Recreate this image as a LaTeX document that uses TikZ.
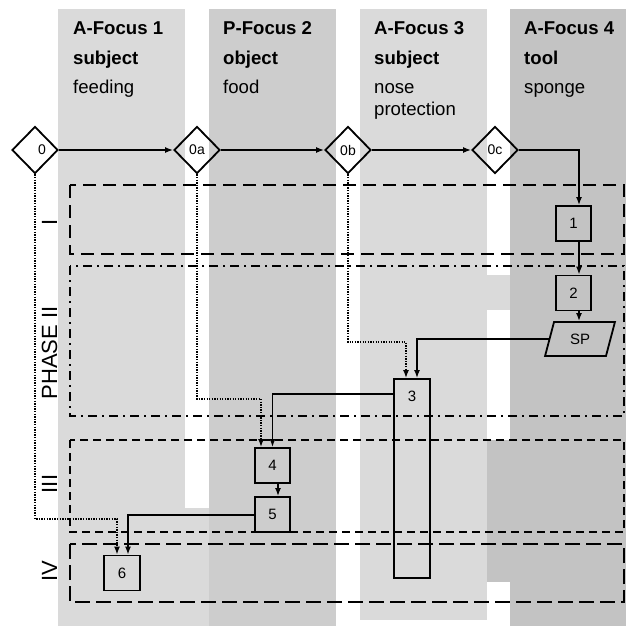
\documentclass[tikz,border=0pt]{standalone}
\usepackage{fontspec}
\setmainfont{Liberation Sans}
\usetikzlibrary{arrows.meta,shapes.geometric,calc}

\definecolor{shadeA}{gray}{0.855}
\definecolor{shadeB}{gray}{0.805}
\definecolor{shadeC}{gray}{0.765}

\tikzset{
  colhead/.style={anchor=base west, inner sep=0, font=\fontsize{18.6}{22}\selectfont\bfseries},
  colsub/.style={anchor=base west, inner sep=0, font=\fontsize{18.6}{22}\selectfont},
  phaselabel/.style={rotate=90, inner sep=0, font=\fontsize{22}{26}\selectfont},
  stepbox/.style={draw, line width=1.8pt, minimum width=35.5pt, minimum height=35pt,
    inner sep=0, font=\fontsize{15}{18}\selectfont},
  decision/.style={draw, diamond, line width=1.8pt, minimum width=46pt, minimum height=47pt,
    inner sep=0, font=\fontsize{14}{16}\selectfont},
  dataio/.style={draw, trapezium, trapezium left angle=72, trapezium right angle=108,
    trapezium stretches=true, minimum width=70pt, minimum height=34pt, line width=1.8pt,
    inner sep=0, font=\fontsize{15}{18}\selectfont},
  flow/.style={line width=1.6pt, -{Latex[length=8pt,width=6pt]}},
  dotflow/.style={flow, dash pattern=on 1.3pt off 1.3pt},
  phaseframe/.style={line width=2pt},
}

\begin{document}
\begin{tikzpicture}[x=1pt,y=-1pt]
  \useasboundingbox (0,0) rectangle (626,626);
  \fill[white] (0,0) rectangle (626,626);

  % focus columns
  \fill[shadeA] (58,9) rectangle (185,626);
  \fill[shadeB] (209,9) rectangle (336,626);
  \fill[shadeA] (360,9) rectangle (487,620);
  \fill[shadeC] (510,9) rectangle (626,626);
  \fill[shadeA] (185,508) rectangle (209,626);
  \fill[shadeA] (487,275) rectangle (510,310);
  \fill[shadeC] (487,440) rectangle (510,582);

  % column headings
  \node[colhead] (h1a) at (73,35) {A-Focus 1};
  \node[colhead] (h1b) at (73,64) {subject};
  \node[colsub]  (h1c) at (73,93) {feeding};
  \node[colhead] (h2a) at (223,35) {P-Focus 2};
  \node[colhead] (h2b) at (223,64) {object};
  \node[colsub]  (h2c) at (223,93) {food};
  \node[colhead] (h3a) at (374,35) {A-Focus 3};
  \node[colhead] (h3b) at (374,64) {subject};
  \node[colsub]  (h3c) at (374,93) {nose};
  \node[colsub]  (h3d) at (374,115) {protection};
  \node[colhead] (h4a) at (524,35) {A-Focus 4};
  \node[colhead] (h4b) at (524,64) {tool};
  \node[colsub]  (h4c) at (524,93) {sponge};

  % phase frames
  \draw[phaseframe, dash pattern=on 13pt off 7pt] (70,185) rectangle (624,254);
  \draw[phaseframe, line width=1.8pt, dash pattern=on 9pt off 5pt on 2pt off 5pt] (70,266) rectangle (624,416);
  \draw[phaseframe, dash pattern=on 8pt off 5pt] (70,440) rectangle (624,532);
  \draw[phaseframe, dash pattern=on 15pt off 6pt] (70,544) rectangle (624,602);

  \node[phaselabel] (p1) at (49.5,222) {I};
  \node[phaselabel] (p2) at (49.5,353) {PHASE II};
  \node[phaselabel] (p3) at (49.5,484) {III};
  \node[phaselabel] (p4) at (49.5,571) {IV};

  % decision points
  \node[decision, label={[xshift=7pt, font=\fontsize{14}{16}\selectfont]center:0}] (d0) at (35,150) {};
  \node[decision] (d0a) at (197,150) {0a};
  \node[decision] (d0b) at (348,150) {0b};
  \node[decision] (d0c) at (495,150) {0c};

  % steps
  \node[stepbox] (b1) at (573.5,223.5) {1};
  \node[stepbox] (b2) at (573.5,293) {2};
  \node[dataio]  (sp) at (580,339) {SP};
  \node[stepbox, minimum width=36pt, minimum height=199pt] (b3) at (412,478.5) {};
  \node[inner sep=0, font=\fontsize{15}{18}\selectfont] (b3num) at ($(b3.north)+(0,18)$) {3};
  \node[stepbox] (b4) at (272.5,465.5) {4};
  \node[stepbox] (b5) at (272.5,514.5) {5};
  \node[stepbox] (b6) at (122,573) {6};

  % sequence
  \draw[flow] (d0.east) -- (d0a.west);
  \draw[flow] (d0a.east) -- (d0b.west);
  \draw[flow] (d0b.east) -- (d0c.west);
  \draw[flow] (d0c.east) -| ([xshift=5.5pt]b1.north);
  \draw[flow] ([xshift=5.5pt]b1.south) -- ([xshift=5.5pt]b2.north);
  \draw[flow] ([xshift=5.5pt]b2.south) -- ([xshift=5.5pt]b2.south |- sp.north);
  \draw[flow] (sp.west) -| ([xshift=5pt]b3.north);
  \draw[flow] ($(b3.north west)+(0,16)$) -| (b4.north);
  \draw[flow] ([xshift=5.5pt]b4.south) -- ([xshift=5.5pt]b5.north);
  \draw[flow] ($(b5.north west)+(0,19)$) -| ([xshift=6pt]b6.north);

  % links from the decision points
  \draw[dotflow] (d0b.south) -- ++(0,167.5) -| ([xshift=-6pt]b3.north);
  \draw[dotflow] (d0a.south) -- ++(0,224.5) -| ([xshift=-11.5pt]b4.north);
  \draw[dotflow] (d0.south) -- ++(0,344.5) -| ([xshift=-5pt]b6.north);
\end{tikzpicture}
\end{document}
